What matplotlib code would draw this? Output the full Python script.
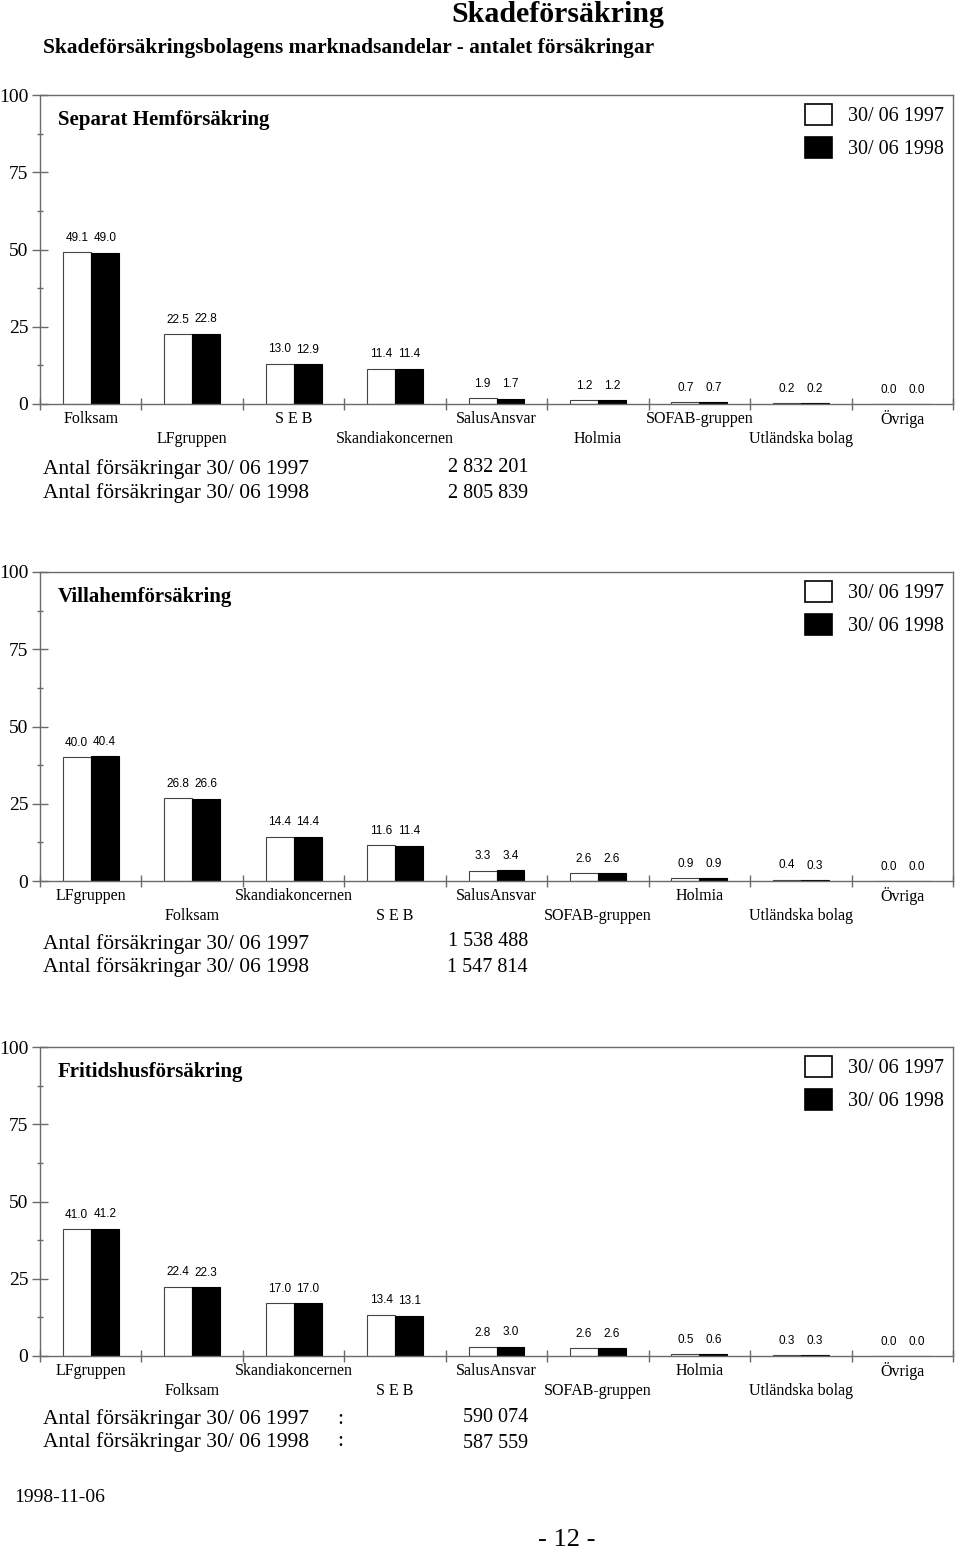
import numpy as np
import matplotlib
matplotlib.use("Agg")
from matplotlib import pyplot as plt
from matplotlib.patches import Patch
from matplotlib.ticker import MultipleLocator, FixedLocator, NullFormatter

serif = ["Liberation Serif", "DejaVu Serif"]
sans = ["Liberation Sans", "DejaVu Sans"]

# data read from the page
series_labels = ["30/ 06 1997", "30/ 06 1998"]

hem_title = "Separat Hemförsäkring"
hem_cats = ["Folksam", "LFgruppen", "S E B", "Skandiakoncernen", "SalusAnsvar",
            "Holmia", "SOFAB-gruppen", "Utländska bolag", "Övriga"]
hem_1997 = [49.1, 22.5, 13.0, 11.4, 1.9, 1.2, 0.7, 0.2, 0.0]
hem_1998 = [49.0, 22.8, 12.9, 11.4, 1.7, 1.2, 0.7, 0.2, 0.0]
hem_antal = ["2 832 201", "2 805 839"]

villa_title = "Villahemförsäkring"
villa_cats = ["LFgruppen", "Folksam", "Skandiakoncernen", "S E B", "SalusAnsvar",
              "SOFAB-gruppen", "Holmia", "Utländska bolag", "Övriga"]
villa_1997 = [40.0, 26.8, 14.4, 11.6, 3.3, 2.6, 0.9, 0.4, 0.0]
villa_1998 = [40.4, 26.6, 14.4, 11.4, 3.4, 2.6, 0.9, 0.3, 0.0]
villa_antal = ["1 538 488", "1 547 814"]

fritid_title = "Fritidshusförsäkring"
fritid_cats = ["LFgruppen", "Folksam", "Skandiakoncernen", "S E B", "SalusAnsvar",
               "SOFAB-gruppen", "Holmia", "Utländska bolag", "Övriga"]
fritid_1997 = [41.0, 22.4, 17.0, 13.4, 2.8, 2.6, 0.5, 0.3, 0.0]
fritid_1998 = [41.2, 22.3, 17.0, 13.1, 3.0, 2.6, 0.6, 0.3, 0.0]
fritid_antal = ["590 074", "587 559"]

W, H = 960, 1551
fig = plt.figure(figsize=(W / 100, H / 100), dpi=100)
frame_col = "#6a6a6a"

def fy(py):
    return 1 - py / H

fig.text(558 / W, fy(14), "Skadeförsäkring", family=serif, fontsize=21.5,
         fontweight="bold", ha="center", va="center")
fig.text(43 / W, fy(48), "Skadeförsäkringsbolagens marknadsandelar - antalet försäkringar",
         family=serif, fontsize=15.4, fontweight="bold", ha="left", va="center")

# (title, cats, v97, v98, antal, axis bottom px, antal rows px, number rows px, colon)
panels = [
    (hem_title, hem_cats, hem_1997, hem_1998, hem_antal, 404, (469, 493), (467, 493), False),
    (villa_title, villa_cats, villa_1997, villa_1998, villa_antal, 881, (944, 967), (942, 968), False),
    (fritid_title, fritid_cats, fritid_1997, fritid_1998, fritid_antal, 1356, (1419, 1442), (1418, 1444), True),
]

left, right, height = 40, 953, 309
bw = 0.276

for title, cats, v97, v98, antal, bottom, arow, nrow, colon in panels:
    ax = fig.add_axes([left / W, 1 - bottom / H, (right - left) / W, height / H])
    x = np.arange(len(cats))
    b1 = ax.bar(x - bw / 2, v97, bw, color="white", edgecolor="#444444", linewidth=0.8)
    b2 = ax.bar(x + bw / 2, v98, bw, color="black", edgecolor="black", linewidth=0.8)
    for bars, vals in ((b1, v97), (b2, v98)):
        for r, v in zip(bars, vals):
            ax.annotate("%.1f" % v, (r.get_x() + r.get_width() / 2, v),
                        xytext=(0, 6), textcoords="offset points",
                        ha="center", va="bottom", family=sans, fontsize=8.5)
    ax.set_xlim(-0.5, len(cats) - 0.5)
    ax.set_ylim(0, 100)

    ax.yaxis.set_major_locator(MultipleLocator(25))
    ax.yaxis.set_minor_locator(MultipleLocator(12.5))
    ax.tick_params(axis="y", which="major", direction="inout", length=11,
                   width=1, color=frame_col, pad=3, labelsize=14)
    ax.tick_params(axis="y", which="minor", direction="inout", length=5,
                   width=1, color=frame_col)
    for lab in ax.get_yticklabels():
        lab.set_family(serif)

    ax.xaxis.set_major_locator(FixedLocator(np.arange(-0.5, len(cats) + 0.5, 1.0)))
    ax.xaxis.set_major_formatter(NullFormatter())
    ax.tick_params(axis="x", which="major", direction="inout", length=8,
                   width=1, color=frame_col)
    for s in ax.spines.values():
        s.set_color(frame_col)
        s.set_linewidth(1)

    for i, c in enumerate(cats):
        off = -15 if i % 2 == 0 else -35
        ax.annotate(c, (i, 0), xycoords=("data", "axes fraction"),
                    xytext=(0, off * 0.72), textcoords="offset points",
                    ha="center", va="center", family=serif, fontsize=11.5)

    ax.text(18 / (right - left), 1 - 25 / height, title, transform=ax.transAxes,
            family=serif, fontsize=15, fontweight="bold", ha="left", va="center")

    handles = [Patch(facecolor="white", edgecolor="black", linewidth=1.2),
               Patch(facecolor="black", edgecolor="black", linewidth=1.2)]
    ax.legend(handles, series_labels, loc="upper right", bbox_to_anchor=(1, 1),
              frameon=False, prop={"family": serif, "size": 14.5},
              borderaxespad=0.35, borderpad=0.1, handlelength=1.35,
              handleheight=1.25, handletextpad=0.8, labelspacing=0.5)

    for k in range(2):
        fig.text(43 / W, fy(arow[k]), "Antal försäkringar " + series_labels[k],
                 family=serif, fontsize=15.5, ha="left", va="center")
        if colon:
            fig.text(340 / W, fy(arow[k]), ":", family=serif, fontsize=15.5,
                     ha="center", va="center")
        fig.text(528 / W, fy(nrow[k]), antal[k], family=serif, fontsize=14.5,
                 ha="right", va="center")

fig.text(14 / W, fy(1497), "1998-11-06", family=serif, fontsize=14,
         ha="left", va="center")
fig.text(567 / W, fy(1540), "- 12 -", family=serif, fontsize=19,
         ha="center", va="center")

fig.savefig("out.png", dpi=100, facecolor="white")
